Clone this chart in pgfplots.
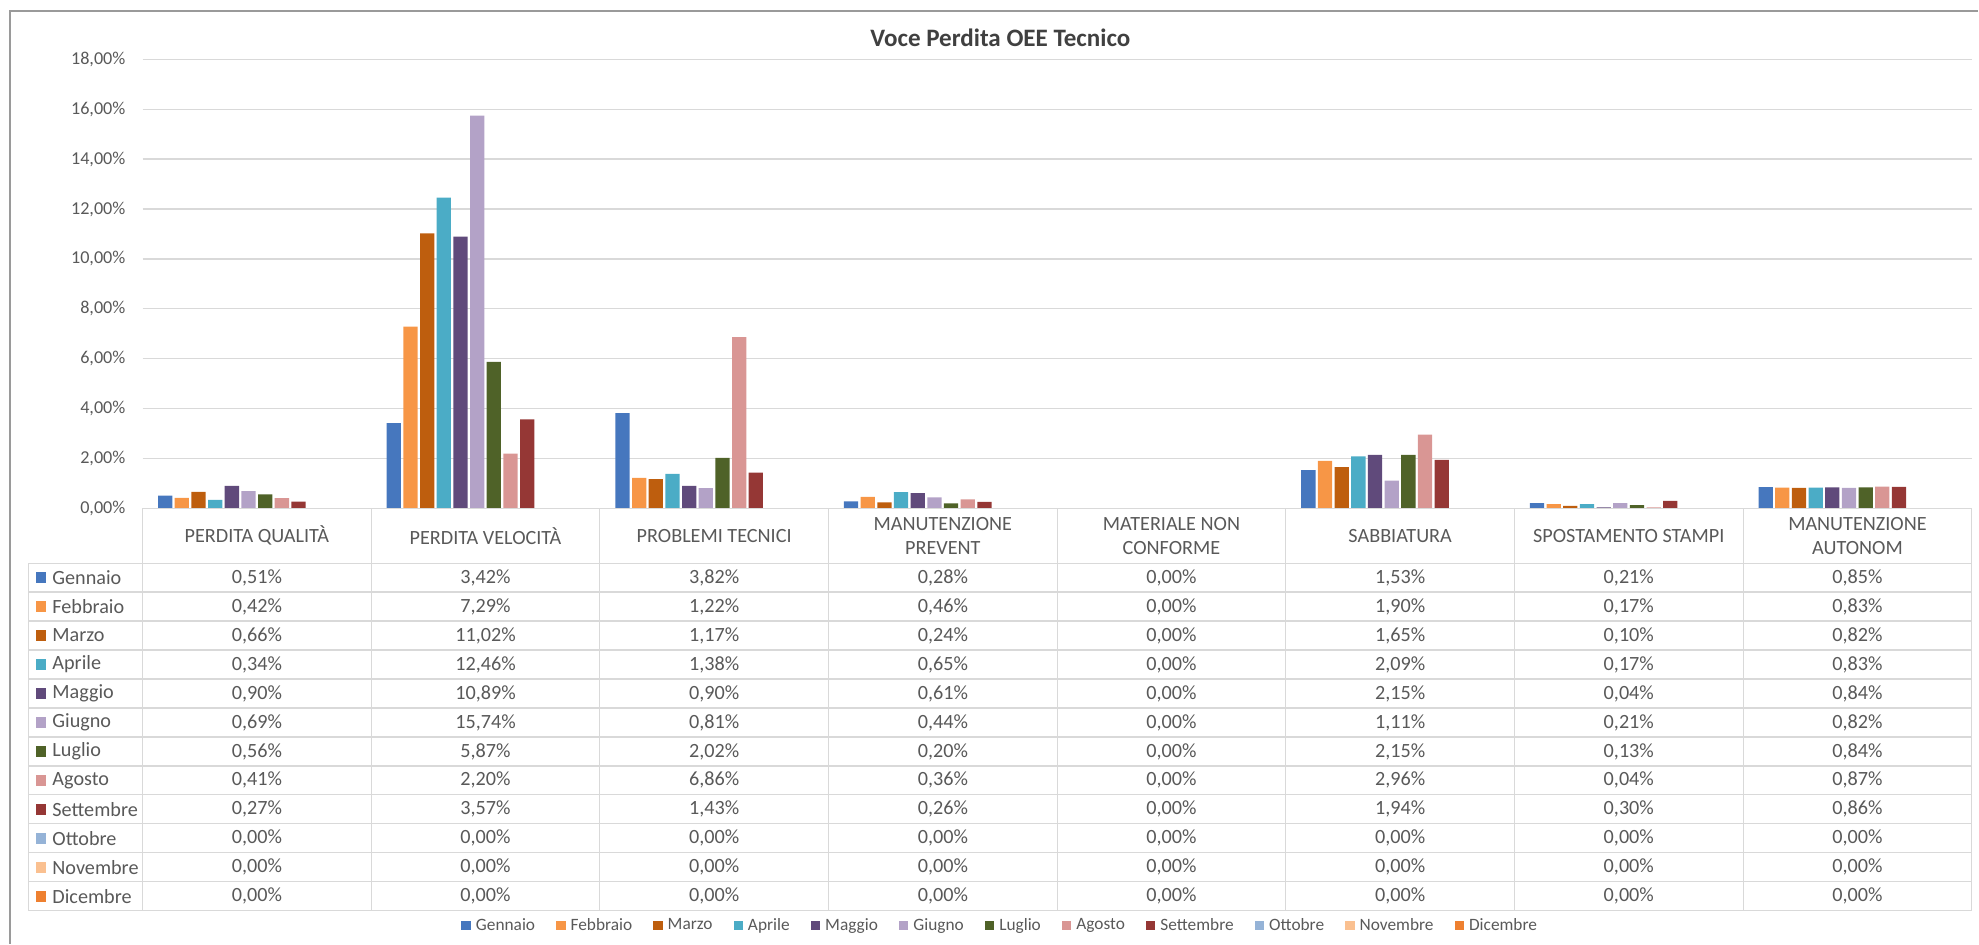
\documentclass[border=0pt]{standalone}
\usepackage{fontspec}
\setmainfont{Carlito}
\usepackage{pgfplots}
\usepackage{pgfplotstable}
\pgfplotsset{compat=1.18}
\definecolor{cGen}{HTML}{4677BE}
\definecolor{cFeb}{HTML}{F79646}
\definecolor{cMar}{HTML}{BE5E0E}
\definecolor{cApr}{HTML}{4BACC6}
\definecolor{cMag}{HTML}{604A7B}
\definecolor{cGiu}{HTML}{B3A2C7}
\definecolor{cLug}{HTML}{4F6228}
\definecolor{cAgo}{HTML}{D99694}
\definecolor{cSet}{HTML}{953735}
\definecolor{cOtt}{HTML}{95B3D7}
\definecolor{cNov}{HTML}{FAC090}
\definecolor{cDic}{HTML}{EE8030}
\definecolor{gridc}{HTML}{D9D9D9}
\definecolor{txt}{HTML}{595959}
\definecolor{titc}{HTML}{404040}
\definecolor{bord}{HTML}{9A9A9A}
\pgfkeys{/pgf/number format/.cd, use comma, fixed, fixed zerofill, precision=2, assume math mode=true}

\pgfplotstableread{
x   Gen  Feb  Mar   Apr   Mag   Giu   Lug  Ago  Set  Ott Nov Dic
0.5 0.51 0.42 0.66  0.34  0.90  0.69  0.56 0.41 0.27 0   0   0
1.5 3.42 7.29 11.02 12.46 10.89 15.74 5.87 2.20 3.57 0   0   0
2.5 3.82 1.22 1.17  1.38  0.90  0.81  2.02 6.86 1.43 0   0   0
3.5 0.28 0.46 0.24  0.65  0.61  0.44  0.20 0.36 0.26 0   0   0
4.5 0    0    0     0     0     0     0    0    0    0   0   0
5.5 1.53 1.90 1.65  2.09  2.15  1.11  2.15 2.96 1.94 0   0   0
6.5 0.21 0.17 0.10  0.17  0.04  0.21  0.13 0.04 0.30 0   0   0
7.5 0.85 0.83 0.82  0.83  0.84  0.82  0.84 0.87 0.86 0   0   0
}\data

\pgfplotsset{
  mybar/.style 2 args={ybar, bar width=0.0624, bar shift=#2, fill=#1, draw=none,
    legend image code/.code={\fill[#1] (0pt,-2.8pt) rectangle (5.6pt,2.8pt);}},
}

\begin{document}
\begin{tikzpicture}[px/.style={x=0.75pt,y=-0.75pt,shift={(-113,-403)}}]
\begin{scope}[px]
\useasboundingbox (0,0) rectangle (1568,748);
\end{scope}
\begin{axis}[
  at={(0,0)}, anchor=south west,
  width=1087.5pt, height=267pt, scale only axis,
  xmin=0, xmax=8, ymin=0, ymax=18,
  axis line style={draw=none},
  xtick=\empty,
  ytick={0,2,...,18},
  ymajorgrids, grid style={draw=gridc, line width=0.75pt},
  major tick length=0pt,
  yticklabel={\pgfmathprintnumber{\tick}\%},
  yticklabel style={font=\fontsize{10.8}{13}\selectfont, text=txt, inner sep=0pt, anchor=east, xshift=-10pt},
  legend columns=12,
  legend cell align=left,
  legend style={at={(0.4693,-0.9284)}, anchor=center, draw=none, fill=none,
    font=\fontsize{10.3}{12}\selectfont, text=txt,
    /tikz/every even column/.append style={column sep=10.5pt},
    /tikz/every odd column/.append style={column sep=1pt}},
]
\addplot[mybar={cGen}{-0.40095}] table[x=x,y=Gen]{\data};
\addplot[mybar={cFeb}{-0.32805}] table[x=x,y=Feb]{\data};
\addplot[mybar={cMar}{-0.25515}] table[x=x,y=Mar]{\data};
\addplot[mybar={cApr}{-0.18225}] table[x=x,y=Apr]{\data};
\addplot[mybar={cMag}{-0.10935}] table[x=x,y=Mag]{\data};
\addplot[mybar={cGiu}{-0.03645}] table[x=x,y=Giu]{\data};
\addplot[mybar={cLug}{0.03645}] table[x=x,y=Lug]{\data};
\addplot[mybar={cAgo}{0.10935}] table[x=x,y=Ago]{\data};
\addplot[mybar={cSet}{0.18225}] table[x=x,y=Set]{\data};
\addplot[mybar={cOtt}{0.25515}] table[x=x,y=Ott]{\data};
\addplot[mybar={cNov}{0.32805}] table[x=x,y=Nov]{\data};
\addplot[mybar={cDic}{0.40095}] table[x=x,y=Dic]{\data};
\legend{Gennaio,Febbraio,Marzo,Aprile,Maggio,Giugno,Luglio,Agosto,Settembre,Ottobre,Novembre,Dicembre}
\end{axis}
\begin{scope}[px]
\draw[bord, line width=1.1pt] (8,748) -- (8,9) -- (1568,9);
\node[font=\fontsize{14.9}{16}\selectfont\bfseries, text=titc] at (793,30) {Voce Perdita OEE Tecnico};
\draw[gridc, line width=0.75pt] (113,403) -- (1563,403);
\foreach \r in {0,...,12} \draw[gridc, line width=0.75pt] (22.5,446.4+22.96*\r) -- (1563,446.4+22.96*\r);
\foreach \k in {0,...,8} \draw[gridc, line width=0.75pt] (113+181.25*\k,403) -- (113+181.25*\k,721.9);
\draw[gridc, line width=0.75pt] (22.5,446.4) -- (22.5,721.9);
\foreach \k/\name in {0/{PERDITA QUALITÀ},1/{PERDITA VELOCITÀ},2/{PROBLEMI TECNICI},3/{MANUTENZIONE\\PREVENT},4/{MATERIALE NON\\CONFORME},5/{SABBIATURA},6/{SPOSTAMENTO STAMPI},7/{MANUTENZIONE\\AUTONOM}}
  \node[align=center, font=\fontsize{12}{14.3}\selectfont, text=txt, inner sep=0pt] at (113+181.25*\k+90.625, 424.7) {\name};
\foreach \name/\col [count=\r from 0] in {Gennaio/cGen,Febbraio/cFeb,Marzo/cMar,Aprile/cApr,Maggio/cMag,Giugno/cGiu,Luglio/cLug,Agosto/cAgo,Settembre/cSet,Ottobre/cOtt,Novembre/cNov,Dicembre/cDic}{
  \fill[fill=\col] (28.3,457.88+22.96*\r-4.2) rectangle ++(8.2,8.4);
  \node[anchor=west, inner sep=0pt, font=\fontsize{12}{14}\selectfont, text=txt] at (41.3,457.88+22.96*\r) {\name};
}
\foreach \m [count=\r from 0] in {Gen,Feb,Mar,Apr,Mag,Giu,Lug,Ago,Set,Ott,Nov,Dic}{
  \foreach \k in {0,...,7}{
    \pgfplotstablegetelem{\k}{\m}\of\data
    \node[font=\fontsize{12}{14}\selectfont, text=txt, inner sep=0pt] at (113+181.25*\k+90.625, 457.88+22.96*\r) {\pgfmathprintnumber{\pgfplotsretval}\%};
  }
}
\end{scope}
\end{tikzpicture}
\end{document}
